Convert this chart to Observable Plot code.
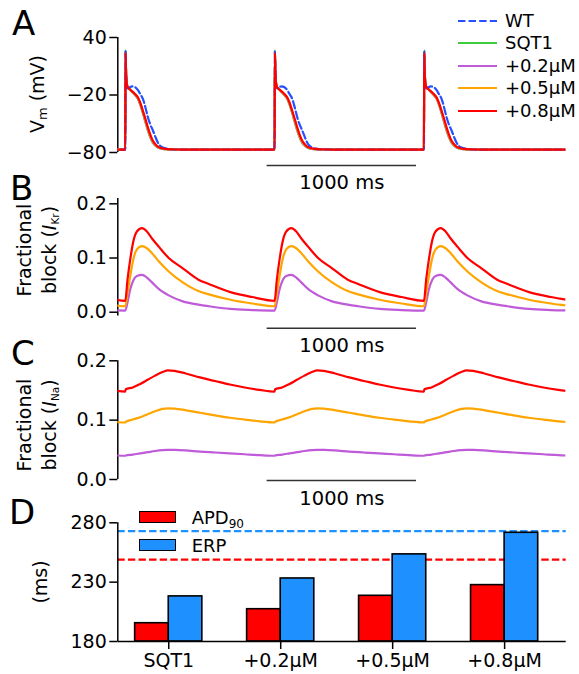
<!DOCTYPE html>
<html><head><meta charset="utf-8">
<script src="https://cdn.jsdelivr.net/npm/d3@7"></script>
<script src="https://cdn.jsdelivr.net/npm/@observablehq/plot@0.6"></script>
<style>
body{margin:0;background:#fff;font-family:"DejaVu Sans",sans-serif;color:#000}
#root{position:relative;width:579px;height:674px;overflow:hidden;background:#fff}
.panel{position:absolute;left:0}
.letter{position:absolute;font-size:34px;line-height:1;color:#000}
.ylab{position:absolute;font-size:19px;line-height:24.5px;transform:translate(-50%,-50%) rotate(-90deg);text-align:center;white-space:nowrap}
.ylab sub{font-size:13px;vertical-align:-3px;line-height:0}
.ylab sub.s{font-size:10.5px;vertical-align:-3px}
.leg{position:absolute;font-size:18px;line-height:1;white-space:nowrap}
.leg sub{font-size:12px;vertical-align:-4px;line-height:0}
</style></head><body><div id="root"></div>
<script>
// ---------------- data ----------------
const seriesNames = ["WT", "SQT1", "+0.2µM", "+0.5µM", "+0.8µM"];
const beatPeriod = 1000;   // ms
const beatOnset = 50;      // ms
const traceEnd = 3000;     // ms
const scaleBar = [1000, 2000];
const scaleBarLabel = "1000 ms";

// Panel A: membrane potential (mV) vs time in beat (ms)
const apTime = [0, 2, 5, 10, 17, 30, 45, 62, 85, 100, 118, 135, 152, 168, 185, 205, 218, 230, 252, 275, 300, 400, 1000];
const apWT   = [-77, 25.5, 5, -9, -13, -12, -11, -11.5, -15, -19, -24, -33, -43.5, -51, -57, -65, -69.6, -72.5, -74.8, -76, -76.6, -77, -77];
const apSQT1 = [-77, 26.7, 6, -8, -12, -14, -16.5, -19.5, -24, -30, -39, -48.5, -57.5, -64.5, -70, -73.5, -74.8, -75.5, -76.3, -76.7, -77, -77, -77];
const apC02  = [-77, 25.5, 6, -8, -12, -14, -16.5, -19.2, -23.6, -29.3, -38, -47.5, -56.5, -63.5, -69.3, -73, -74.5, -75.3, -76.2, -76.6, -76.9, -77, -77];
const apC05  = [-77, 25, 5.5, -8, -12, -14, -16.3, -18.9, -23, -28.6, -37.2, -46.2, -55.3, -62.6, -68.6, -72.5, -74.2, -75, -76, -76.5, -76.8, -77, -77];
const apC08  = [-77, 24, 5, -8, -12, -14, -16, -18.5, -22.6, -28, -36.5, -45, -54, -61.5, -67.8, -72, -73.8, -74.8, -75.8, -76.3, -76.6, -77, -77];
const apTicks = [-80, -20, 40];

// Panel B: fractional block of IKr
const bTime  = [0, 15, 33, 56, 78, 112, 145, 179, 224, 291, 385, 490, 560, 704, 850, 1000];
const ikrC02 = [0.003, 0.018, 0.042, 0.060, 0.067, 0.069, 0.064, 0.055, 0.043, 0.031, 0.020, 0.014, 0.011, 0.006, 0.004, 0.003];
const ikrC05 = [0.011, 0.035, 0.066, 0.100, 0.116, 0.122, 0.118, 0.109, 0.094, 0.075, 0.055, 0.039, 0.033, 0.023, 0.016, 0.011];
const ikrC08 = [0.021, 0.060, 0.097, 0.133, 0.149, 0.155, 0.149, 0.136, 0.121, 0.100, 0.081, 0.060, 0.052, 0.037, 0.028, 0.021];
const blockTicks = [0, 0.1, 0.2];

// Panel C: fractional block of INa
const cTime  = [0, 3, 50, 100, 150, 200, 250, 286, 330, 400, 500, 600, 700, 800, 900, 1000];
const inaC02 = [0.040, 0.0405, 0.042, 0.044, 0.046, 0.048, 0.0495, 0.050, 0.0498, 0.049, 0.047, 0.0455, 0.044, 0.0425, 0.041, 0.040];
const inaC05 = [0.096, 0.097, 0.101, 0.105, 0.110, 0.115, 0.119, 0.120, 0.1195, 0.117, 0.1125, 0.108, 0.104, 0.101, 0.098, 0.096];
const inaC08 = [0.148, 0.152, 0.155, 0.161, 0.168, 0.175, 0.181, 0.184, 0.183, 0.179, 0.172, 0.166, 0.160, 0.155, 0.151, 0.148];

// Panel D: APD90 and ERP (ms)
const dCategories = ["SQT1", "+0.2µM", "+0.5µM", "+0.8µM"];
const apd90 = [195.4, 207.2, 218.5, 227.5];
const erp   = [218, 233.1, 253.4, 271.6];
const wtAPD90 = 249;
const wtERP = 273;
const dTicks = [180, 230, 280];

// ---------------- styles ----------------
const colors = {"WT": "#2450ff", "SQT1": "#3ccc3c", "+0.2µM": "#bf5ad8", "+0.5µM": "#ffa500", "+0.8µM": "#ff0000"};
const apdColor = "#ff0000", erpColor = "#1e90ff";
const font = "DejaVu Sans";
const FS = 19;
const baseStyle = {fontFamily: font, fontSize: FS + "px", background: "transparent", overflow: "visible", color: "black"};
const LW = 2.2;

function trace(times, values) {
  const out = [];
  for (let b = -1; b <= 2; b++) {
    times.forEach((t, k) => {
      if (b < 2 && k === times.length - 1) return;
      out.push({t: beatOnset + b * beatPeriod + t, v: values[k]});
    });
  }
  return out;
}
function lineMark(times, values, name, extra = {}) {
  return Plot.line(trace(times, values), {x: "t", y: "v", stroke: colors[name], strokeWidth: LW,
    curve: "monotone-x", clip: true, ...extra});
}
function scaleBarMarks(ymin, dyBar, dyText) {
  return [
    Plot.ruleY([ymin], {x1: scaleBar[0], x2: scaleBar[1], dy: dyBar, stroke: "#333", strokeWidth: 1.6}),
    Plot.text([scaleBarLabel], {x: (scaleBar[0] + scaleBar[1]) / 2, y: () => ymin, dy: dyText, fontSize: 19.5, fill: "black"})
  ];
}
const axisOpts = {tickSize: 8, tickPadding: 3, stroke: "black", strokeWidth: 1.5, fill: "black", label: null, fontSize: FS};

const root = document.getElementById("root");
function place(svg, top) {
  const d = document.createElement("div");
  d.className = "panel"; d.style.top = top + "px";
  d.appendChild(svg); root.appendChild(d);
}

// ---- Panel A ----
const yA = [-80, 40];
place(Plot.plot({
  width: 579, height: 195, marginLeft: 117.3, marginRight: 13.7, marginTop: 37, marginBottom: 43,
  style: baseStyle,
  x: {domain: [0, traceEnd], axis: null},
  y: {domain: yA},
  marks: [
    Plot.axisY({...axisOpts, ticks: apTicks}),
    Plot.ruleX([0], {stroke: "black", strokeWidth: 1.5}),
    lineMark(apTime, apSQT1, "SQT1"),
    lineMark(apTime, apC02, "+0.2µM"),
    lineMark(apTime, apC05, "+0.5µM"),
    lineMark(apTime, apWT, "WT", {strokeDasharray: "7.4,3.2"}),
    lineMark(apTime, apC08, "+0.8µM"),
    ...scaleBarMarks(yA[0], 13, 30)
  ]
}), 0);

// ---- Panel B ----
const yB = [-0.007, 0.21];
place(Plot.plot({
  width: 579, height: 163, marginLeft: 117.3, marginRight: 13.7, marginTop: 5.9, marginBottom: 39.5,
  style: baseStyle,
  x: {domain: [0, traceEnd], axis: null},
  y: {domain: yB},
  marks: [
    Plot.axisY({...axisOpts, ticks: blockTicks, tickFormat: d3.format(".1f")}),
    Plot.ruleX([0], {stroke: "black", strokeWidth: 1.5}),
    lineMark(bTime, ikrC02, "+0.2µM"),
    lineMark(bTime, ikrC05, "+0.5µM"),
    lineMark(bTime, ikrC08, "+0.8µM"),
    ...scaleBarMarks(yB[0], 12.2, 29.5)
  ]
}), 192);

// ---- Panel C ----
const yC = [0, 0.2];
place(Plot.plot({
  width: 579, height: 155, marginLeft: 117.3, marginRight: 13.7, marginTop: 5.3, marginBottom: 31,
  style: baseStyle,
  x: {domain: [0, traceEnd], axis: null},
  y: {domain: yC},
  marks: [
    Plot.axisY({...axisOpts, ticks: blockTicks, tickFormat: d3.format(".1f")}),
    Plot.ruleX([0], {stroke: "black", strokeWidth: 1.5}),
    lineMark(cTime, inaC02, "+0.2µM"),
    lineMark(cTime, inaC05, "+0.5µM"),
    lineMark(cTime, inaC08, "+0.8µM"),
    ...scaleBarMarks(yC[0], 1, 19)
  ]
}), 355);

// ---- Panel D ----
const barW = 0.3;
const xD = [-0.455, 3.55];
const barsD = [];
dCategories.forEach((c, i) => {
  barsD.push({cat: c, metric: "APD90", value: apd90[i], x1: i - barW, x2: i});
  barsD.push({cat: c, metric: "ERP", value: erp[i], x1: i, x2: i + barW});
});
place(Plot.plot({
  width: 579, height: 169, marginLeft: 117.3, marginRight: 13.3, marginTop: 17.3, marginBottom: 33,
  style: baseStyle,
  x: {domain: xD},
  y: {domain: [dTicks[0], dTicks[dTicks.length - 1]]},
  marks: [
    Plot.ruleY([wtERP], {stroke: erpColor, strokeWidth: 2.2, strokeDasharray: "7.4,3.2"}),
    Plot.ruleY([wtAPD90], {stroke: apdColor, strokeWidth: 2.2, strokeDasharray: "7.4,3.2"}),
    Plot.rect(barsD, {x1: "x1", x2: "x2", y1: dTicks[0], y2: "value",
      fill: d => d.metric === "APD90" ? apdColor : erpColor, stroke: "black", strokeWidth: 1.6}),
    Plot.axisY({...axisOpts, ticks: dTicks}),
    Plot.axisX({...axisOpts, ticks: dCategories.map((_, i) => i), tickFormat: i => dCategories[i], tickPadding: 4}),
    Plot.ruleX([xD[0]], {stroke: "black", strokeWidth: 1.5}),
    Plot.ruleY([dTicks[0]], {stroke: "black", strokeWidth: 1.5})
  ]
}), 505);

// ---------------- HTML text overlays ----------------
function addHTML(cls, html, css) {
  const d = document.createElement("div");
  d.className = cls; d.innerHTML = html;
  Object.assign(d.style, css);
  root.appendChild(d);
  return d;
}
addHTML("letter", "A", {left: "12px", top: "6px"});
addHTML("letter", "B", {left: "10px", top: "171px"});
addHTML("letter", "C", {left: "11px", top: "336px"});
addHTML("letter", "D", {left: "9px", top: "495px"});

addHTML("ylab", "V<sub>m</sub> (mV)", {left: "37px", top: "94px"});
addHTML("ylab", "Fractional<br>block (<i>I</i><sub class='s'>Kr</sub>)", {left: "36px", top: "250px"});
addHTML("ylab", "Fractional<br>block (<i>I</i><sub class='s'>Na</sub>)", {left: "36px", top: "425px"});
addHTML("ylab", "(ms)", {left: "40px", top: "582px"});

// Legend A
seriesNames.forEach((name, k) => {
  const cy = 20.7 + k * 22.5;
  const dash = name === "WT" ? "stroke-dasharray='7.4,3.2'" : "";
  addHTML("leg", `<svg width="40" height="6" style="position:absolute;left:0;top:-3px"><line x1="0" x2="39" y1="3" y2="3" stroke="${colors[name]}" stroke-width="${LW}" ${dash}/></svg>`,
    {left: "458px", top: cy + "px"});
  addHTML("leg", name, {left: "505px", top: (cy - 9) + "px"});
});

// Legend D
[["APD<sub>90</sub>", apdColor, 511], ["ERP", erpColor, 539]].forEach(([label, col, top]) => {
  addHTML("leg", "", {left: "139px", top: top + "px", width: "35.3px", height: "10px", background: col, border: "1.5px solid black"});
  addHTML("leg", label, {left: "191.7px", top: (top - 2) + "px"});
});
</script>
</body></html>
